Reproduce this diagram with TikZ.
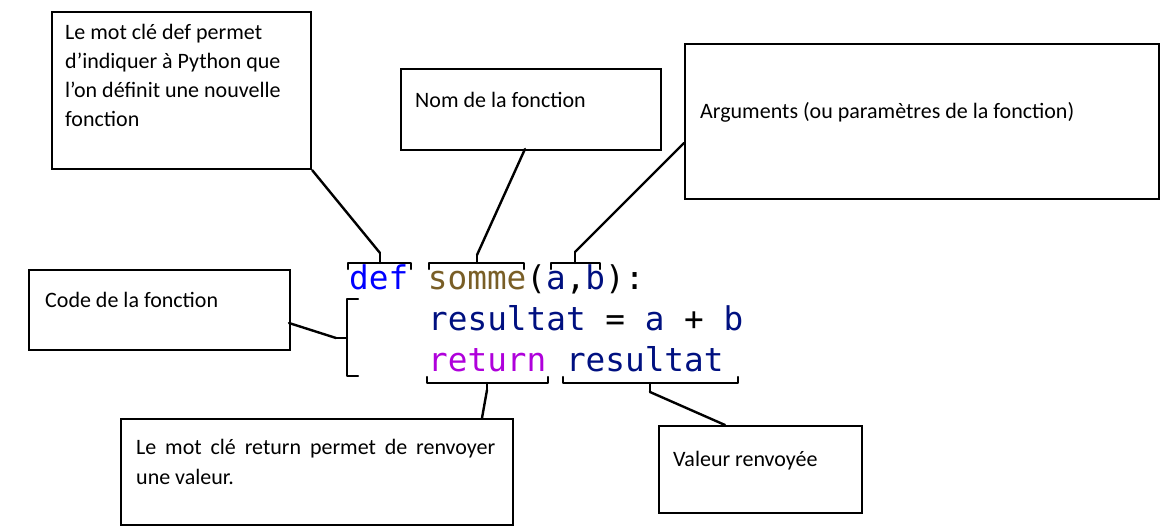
\documentclass[tikz,border=0pt]{standalone}
\usepackage{fontspec}
\setmainfont{Carlito}
\newfontfamily\codefont{DejaVu Sans Mono}
\definecolor{kwblue}{HTML}{0000FF}
\definecolor{fnbrown}{HTML}{795E26}
\definecolor{varnavy}{HTML}{001080}
\definecolor{kwpurple}{HTML}{AF00DB}
\tikzset{
  box/.style={draw, line width=2.2pt, rectangle, anchor=north west, inner sep=0pt},
  lbl/.style={anchor=base west, inner sep=0pt, font=\fontsize{22}{29}\selectfont},
  code/.style={anchor=base west, inner sep=0pt, font=\codefont\fontsize{32.7}{40}\selectfont},
  brace/.style={line width=2.4pt, line cap=round, line join=round},
  conn/.style={line width=2.4pt, line cap=round}
}
\begin{document}
\begin{tikzpicture}[x=1pt,y=-1pt]
\useasboundingbox (0,0) rectangle (1165,526);
% boxes
\node[box, minimum width=259pt, minimum height=157pt] (b1) at (51,11) {};
\node[box, minimum width=260pt, minimum height=81pt] (b2) at (400,68) {};
\node[box, minimum width=474pt, minimum height=155pt] (b3) at (684,43) {};
\node[box, minimum width=261pt, minimum height=80pt] (b4) at (28,269) {};
\node[box, minimum width=392pt, minimum height=106pt] (b5) at (120,418) {};
\node[box, minimum width=203pt, minimum height=87pt] (b6) at (658,425) {};
% labels
\node[lbl] (t1) at (65,39.3) {\parbox[t]{240pt}{\raggedright Le mot clé def permet\\d’indiquer à Python que\\l’on définit une nouvelle\\fonction}};
\node[lbl] (t2) at (415,108) {Nom de la fonction};
\node[lbl] (t3) at (700,118.5) {Arguments (ou paramètres de la fonction)};
\node[lbl] (t4) at (45,308) {Code de la fonction};
\node[lbl] (t5) at (136,455) {\parbox[t]{359pt}{Le mot clé return permet de renvoyer\linebreak une valeur.}};
\node[lbl] (t6) at (673,467) {Valeur renvoyée};
% code
\node[code] (c1) at (349,290) {\textcolor{kwblue}{def} \textcolor{fnbrown}{somme}(\textcolor{varnavy}{a},\textcolor{varnavy}{b}):};
\node[code] (c2) at (428,331) {\textcolor{varnavy}{resultat} = \textcolor{varnavy}{a} + \textcolor{varnavy}{b}};
\node[code] (c3) at (428,372) {\textcolor{kwpurple}{return} \textcolor{varnavy}{resultat}};
% braces
\draw[brace] (348,269) -- (348,263) -- (411,263) -- (411,269);
\draw[brace] (429,269) -- (429,263) -- (524,263) -- (524,269);
\draw[brace] (551,269) -- (551,263) -- (600,263) -- (600,269);
\draw[brace] (358,299) -- (347,299) -- (347,376) -- (358,376);
\draw[brace] (427,377) -- (427,383) -- (548,383) -- (548,377);
\draw[brace] (563,377) -- (563,383) -- (738,383) -- (738,377);
% brace tips
\coordinate (p1) at (380,253);
\coordinate (p2) at (477,255);
\coordinate (p3) at (575,252);
\coordinate (p4) at (336,338);
\coordinate (p5) at (487,390);
\coordinate (p6) at (650,392);
\draw[brace] (380,263) -- (p1);
\draw[brace] (477,263) -- (p2);
\draw[brace] (575,263) -- (p3);
\draw[brace] (347,338) -- (p4);
\draw[brace] (487,383) -- (p5);
\draw[brace] (650,383) -- (p6);
% connectors
\coordinate (a2) at (525,149);
\coordinate (a3) at (684,143);
\coordinate (a4) at (289,323);
\coordinate (a5) at (482,418);
\coordinate (a6) at (725,425);
\draw[conn] (p1) -- (b1.south east);
\draw[conn] (p2) -- (a2);
\draw[conn] (p3) -- (a3);
\draw[conn] (p4) -- (a4);
\draw[conn] (p5) -- (a5);
\draw[conn] (p6) -- (a6);
\end{tikzpicture}
\end{document}
